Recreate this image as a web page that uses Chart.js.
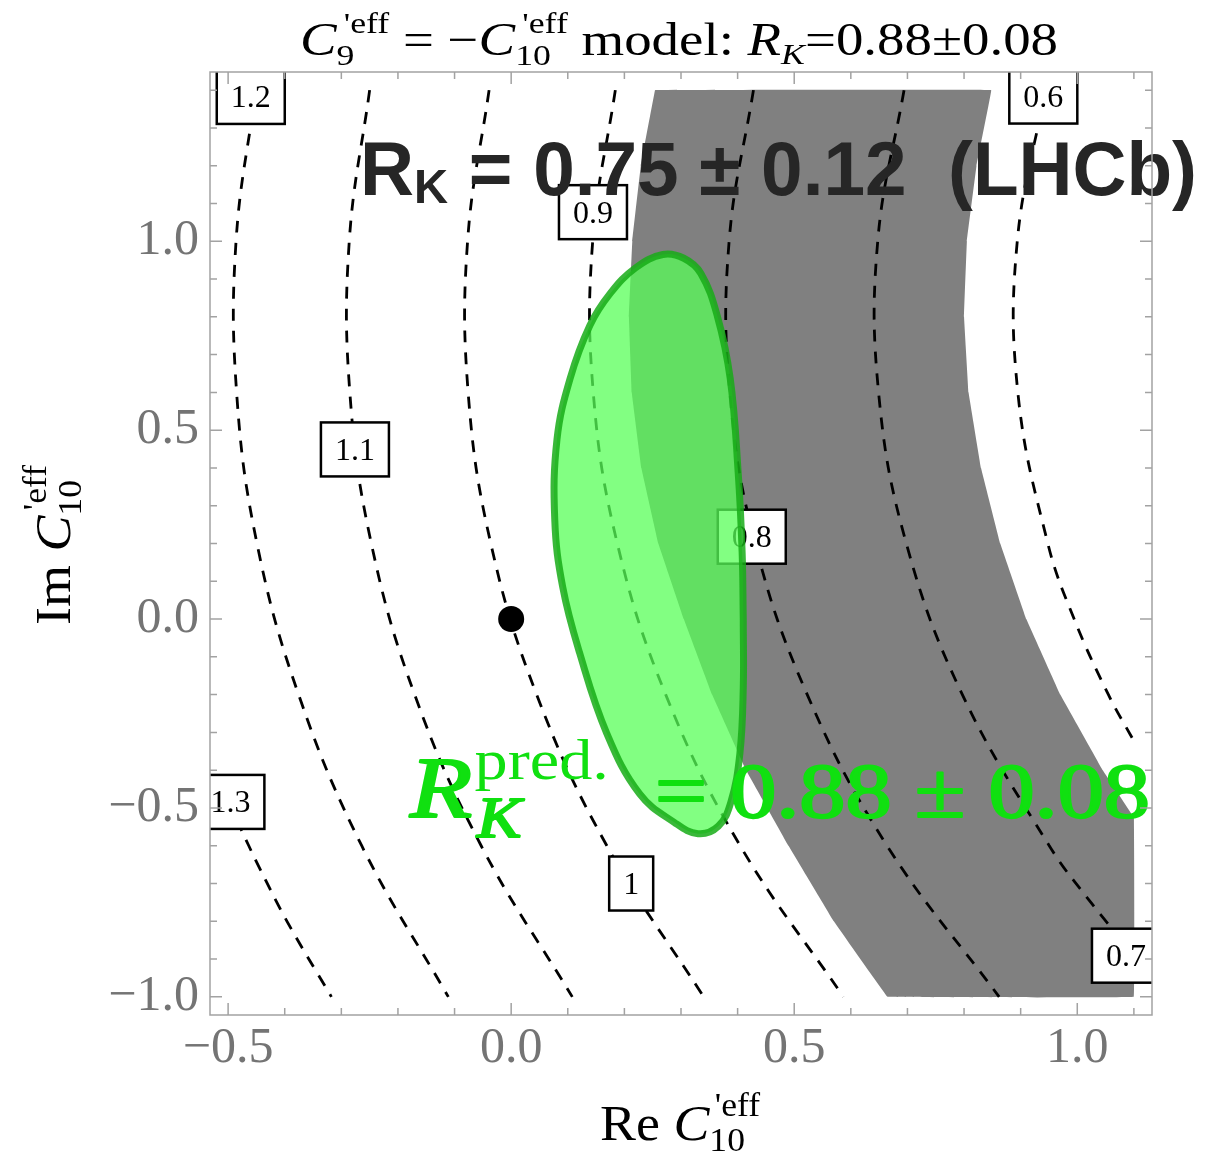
<!DOCTYPE html>
<html>
<head>
<meta charset="utf-8">
<script src="https://cdn.jsdelivr.net/npm/chart.js@4.4.1/dist/chart.umd.min.js"></script>
<style>
  html, body { margin: 0; padding: 0; background: #fff; }
</style>
</head>
<body>
<canvas id="rkChart" width="1222" height="1154"></canvas>
<script>
// R_K contour lines (dashed), points as [Re, Im]
const contour13 = [[-0.5, -0.478], [-0.479, -0.55], [-0.4635, -0.6], [-0.4475, -0.65], [-0.396, -0.8], [-0.3175, -1.0]];
const contour12 = [[-0.451, 1.4], [-0.486, 1.0], [-0.485, 0.6], [-0.449, 0.2], [-0.3755, -0.2], [-0.264, -0.6], [-0.111, -1.0]];
const contour11 = [[-0.25, 1.4], [-0.286, 1.0], [-0.285, 0.6], [-0.247, 0.2], [-0.1705, -0.2], [-0.053, -0.6], [0.108, -1.0]];
const contour10 = [[-0.039, 1.4], [-0.077, 1.0], [-0.076, 0.6], [-0.036, 0.2], [0.045, -0.2], [0.169, -0.6], [0.34, -1.0]];
const contour09 = [[0.184, 1.4], [0.144, 1.0], [0.145, 0.6], [0.1875, 0.2], [0.273, -0.2], [0.4045, -0.6], [0.587, -1.0]];
const contour08 = [[0.428, 1.4], [0.385, 1.0], [0.386, 0.6], [0.431, 0.2], [0.523, -0.2], [0.664, -0.6], [0.862, -1.0]];
const contour07 = [[0.694, 1.4], [0.6475, 1.0], [0.649, 0.6], [0.698, 0.2], [0.797, -0.2], [0.9505, -0.6], [1.024, -0.75], [1.1, -0.888]];
const contour06 = [[0.944, 1.4], [0.894, 1.0], [0.895, 0.6], [0.948, 0.2], [0.9945, 0.0], [1.055, -0.2], [1.1, -0.323]];
const contours = [contour13, contour12, contour11, contour10, contour09, contour08, contour07, contour06];

// level labels on the contours
const labelText = ['1.2', '0.6', '0.9', '1.1', '0.8', '1.3', '1', '0.7'];
const labelRe = [-0.46, 0.94, 0.1445, -0.276, 0.425, -0.496, 0.212, 1.086];
const labelIm = [1.382, 1.383, 1.077, 0.449, 0.218, -0.484, -0.70, -0.891];

// LHCb band R_K = 0.75 +- 0.12 (gray)
const lhcbBand = [
  [0.254, 1.4], [0.848, 1.4], [0.822, 1.2], [0.805, 1.0], [0.8, 0.8], [0.808, 0.6], [0.83, 0.4],
  [0.864, 0.2], [0.91, 0.0], [0.97, -0.2], [1.045, -0.4], [1.1, -0.525], [1.1, -1.0], [0.665, -1.0],
  [0.57, -0.8], [0.49, -0.6], [0.415, -0.4], [0.355, -0.2], [0.305, 0.0], [0.26, 0.2], [0.23, 0.4],
  [0.213, 0.6], [0.208, 0.8], [0.214, 1.0], [0.229, 1.2], [0.254, 1.4]
];

// predicted region (green)
const predRegion = [
  [0.41, -0.003], [0.41, -0.181], [0.404, -0.356], [0.388, -0.485], [0.366, -0.548], [0.33, -0.568],
  [0.288, -0.538], [0.227, -0.463], [0.169, -0.303], [0.121, -0.09], [0.091, 0.085], [0.077, 0.263],
  [0.081, 0.476], [0.104, 0.636], [0.139, 0.777], [0.175, 0.862], [0.22, 0.93], [0.268, 0.965],
  [0.305, 0.955], [0.335, 0.915], [0.364, 0.803], [0.387, 0.636], [0.401, 0.388], [0.408, 0.176],
  [0.41, -0.003]
];

// SM point
const smPoint = [0, 0];

const xMajor = [-0.5, 0, 0.5, 1.0];
const yMajor = [-1.0, -0.5, 0, 0.5, 1.0];

const SERIF = '"Liberation Serif", "Times New Roman", serif';
const SANS = '"Liberation Sans", Arial, sans-serif';

const toPts = arr => arr.map(([x, y]) => ({x, y}));
const isMajor = (v, list) => list.some(m => Math.abs(m - v) < 1e-6);
const fmt = v => (Math.abs(v) < 1e-9 ? 0 : v).toFixed(1).replace('-', '\u2212');

// draw a row of text pieces, some of them stacked super/subscripts
function drawRich(ctx, parts, x, y, align, targetW, strokeW) {
  const widths = parts.map(p => {
    if (p.sup) {
      ctx.font = p.sup.f;
      const a = ctx.measureText(p.sup.t).width + (p.sup.dx || 0);
      ctx.font = p.sub.f;
      const b = ctx.measureText(p.sub.t).width + (p.sub.dx || 0);
      return Math.max(a, b);
    }
    ctx.font = p.f;
    return ctx.measureText(p.t).width;
  });
  const total = widths.reduce((s, w) => s + w, 0);
  const sx = targetW ? targetW / total : 1;
  ctx.save();
  ctx.translate(x, y);
  ctx.scale(sx, 1);
  ctx.textAlign = 'left';
  ctx.textBaseline = 'alphabetic';
  if (strokeW) {
    ctx.strokeStyle = ctx.fillStyle;
    ctx.lineWidth = strokeW;
    ctx.lineJoin = 'round';
  }
  let cx = align === 'center' ? -total / 2 : 0;
  parts.forEach((p, i) => {
    const items = p.sup ? [p.sup, p.sub] : [p];
    items.forEach(it => {
      ctx.font = it.f;
      ctx.fillText(it.t, cx + (it.dx || 0), it.dy || 0);
      if (strokeW && !it.thin) ctx.strokeText(it.t, cx + (it.dx || 0), it.dy || 0);
    });
    cx += widths[i];
  });
  ctx.restore();
}

function drawContourLabels(chart) {
  const {ctx, chartArea: a, scales: {x, y}} = chart;
  ctx.save();
  ctx.beginPath();
  ctx.rect(a.left, a.top, a.right - a.left, a.bottom - a.top);
  ctx.clip();
  ctx.font = '32px ' + SERIF;
  labelText.forEach((t, i) => {
    const px = x.getPixelForValue(labelRe[i]);
    const py = y.getPixelForValue(labelIm[i]);
    const w = ctx.measureText(t).width + 28;
    const h = 54;
    ctx.fillStyle = '#fff';
    ctx.fillRect(px - w / 2, py - h / 2, w, h);
    ctx.lineWidth = 2.5;
    ctx.strokeStyle = '#000';
    ctx.strokeRect(px - w / 2, py - h / 2, w, h);
    ctx.fillStyle = '#000';
    ctx.textAlign = 'center';
    ctx.textBaseline = 'middle';
    ctx.fillText(t, px, py + 2);
  });
  ctx.restore();
}

function drawFrame(chart) {
  const {ctx, chartArea: a, scales: {x, y}} = chart;
  ctx.save();
  ctx.strokeStyle = '#a2a2a2';
  ctx.lineWidth = 1.5;
  ctx.strokeRect(a.left, a.top, a.right - a.left, a.bottom - a.top);
  ctx.beginPath();
  x.ticks.forEach(t => {
    const px = x.getPixelForValue(t.value);
    const len = isMajor(t.value, xMajor) ? 12 : 7;
    ctx.moveTo(px, a.bottom); ctx.lineTo(px, a.bottom - len);
    ctx.moveTo(px, a.top); ctx.lineTo(px, a.top + len);
  });
  y.ticks.forEach(t => {
    const py = y.getPixelForValue(t.value);
    const len = isMajor(t.value, yMajor) ? 12 : 7;
    ctx.moveTo(a.left, py); ctx.lineTo(a.left + len, py);
    ctx.moveTo(a.right, py); ctx.lineTo(a.right - len, py);
  });
  ctx.stroke();
  ctx.restore();
}

const overlay = {
  id: 'overlay',
  afterDatasetDraw(chart, args) {
    // labels go in just before the green region is painted
    if (args.index === 1) drawContourLabels(chart);
  },
  afterDraw(chart) {
    const ctx = chart.ctx;
    const I46 = 'italic 46px ' + SERIF, N46 = '46px ' + SERIF, N30 = '30px ' + SERIF, I30 = 'italic 30px ' + SERIF;

    // LHCb measurement
    ctx.fillStyle = '#262626';
    drawRich(ctx, [
      {t: 'R', f: 'bold 76px ' + SANS},
      {t: 'K', f: 'bold 48px ' + SANS, dy: 8},
      {t: ' = 0.75 \u00b1 0.12  (LHCb)', f: 'bold 76px ' + SANS}
    ], 360, 195, 'left', 837);

    // prediction
    ctx.fillStyle = '#10e010';
    drawRich(ctx, [
      {t: 'R', f: 'italic 86px ' + SERIF},
      {sup: {t: 'pred.', f: '56px ' + SERIF, dy: -38, dx: 2, thin: true}, sub: {t: 'K', f: 'italic 56px ' + SERIF, dy: 20, dx: 4}},
      {t: '  = 0.88 \u00b1 0.08', f: '78px ' + SERIF}
    ], 410, 817, 'left', 740, 2.2);

    drawFrame(chart);

    // title
    ctx.fillStyle = '#000';
    drawRich(ctx, [
      {t: 'C', f: I46},
      {sup: {t: "'eff", f: N30, dy: -22, dx: 6}, sub: {t: '9', f: N30, dy: 10}},
      {t: ' = \u2212', f: N46},
      {t: 'C', f: I46},
      {sup: {t: "'eff", f: N30, dy: -22, dx: 6}, sub: {t: '10', f: N30, dy: 10}},
      {t: ' model: ', f: N46},
      {t: 'R', f: I46},
      {t: 'K', f: I30, dy: 9},
      {t: '=0.88\u00b10.08', f: N46}
    ], 300, 55, 'left', 758);

    // axis titles
    const I50 = 'italic 50px ' + SERIF, N50 = '50px ' + SERIF, N33 = '33px ' + SERIF;
    const axisParts = name => [
      {t: name + ' ', f: N50},
      {t: 'C', f: I50},
      {sup: {t: "'eff", f: N33, dy: -24, dx: 5}, sub: {t: '10', f: N33, dy: 11}}
    ];
    drawRich(ctx, axisParts('Re'), 600, 1140, 'left', 160);
    ctx.save();
    ctx.translate(70, 545);
    ctx.rotate(-Math.PI / 2);
    drawRich(ctx, axisParts('Im'), 0, 0, 'center', 160);
    ctx.restore();
  }
};

const datasets = [];
datasets.push({
  data: toPts(predRegion), order: 0, fill: 'shape',
  backgroundColor: 'rgba(88, 255, 88, 0.75)', borderColor: 'rgba(24, 172, 24, 0.85)',
  borderWidth: 7, tension: 0.4, pointRadius: 0
});
datasets.push({
  data: [{x: smPoint[0], y: smPoint[1]}], order: 1, showLine: false,
  pointRadius: 13, pointBackgroundColor: '#000', pointBorderWidth: 0
});
contours.forEach(c => datasets.push({
  data: toPts(c), order: 2, fill: false, borderColor: '#000', borderWidth: 2.8,
  borderDash: [12, 10], tension: 0.4, pointRadius: 0
}));
datasets.push({
  data: toPts(lhcbBand), order: 3, fill: 'shape', backgroundColor: '#808080',
  borderWidth: 0, tension: 0.01, pointRadius: 0
});

const tickFont = {family: SERIF, size: 50};

new Chart(document.getElementById('rkChart'), {
  type: 'line',
  data: {datasets},
  options: {
    responsive: false,
    animation: false,
    events: [],
    layout: {padding: {left: 0, right: 70, top: 72, bottom: 0}},
    plugins: {legend: {display: false}, tooltip: {enabled: false}, title: {display: false}},
    scales: {
      x: {
        type: 'linear', min: -0.532, max: 1.132,
        grid: {display: false}, border: {display: false},
        afterFit: s => { s.height = 139; },
        ticks: {
          stepSize: 0.1, includeBounds: false, autoSkip: false, maxTicksLimit: 100,
          maxRotation: 0, padding: -4, color: '#747474', font: tickFont,
          callback: v => isMajor(v, xMajor) ? fmt(v) : ''
        }
      },
      y: {
        type: 'linear', min: -1.048, max: 1.448,
        grid: {display: false}, border: {display: false},
        afterFit: s => { s.width = 210; },
        ticks: {
          stepSize: 0.1, includeBounds: false, autoSkip: false, maxTicksLimit: 100,
          padding: 3, color: '#747474', font: tickFont,
          callback: v => isMajor(v, yMajor) ? fmt(v) : ''
        }
      }
    }
  },
  plugins: [overlay]
});
</script>
</body>
</html>
